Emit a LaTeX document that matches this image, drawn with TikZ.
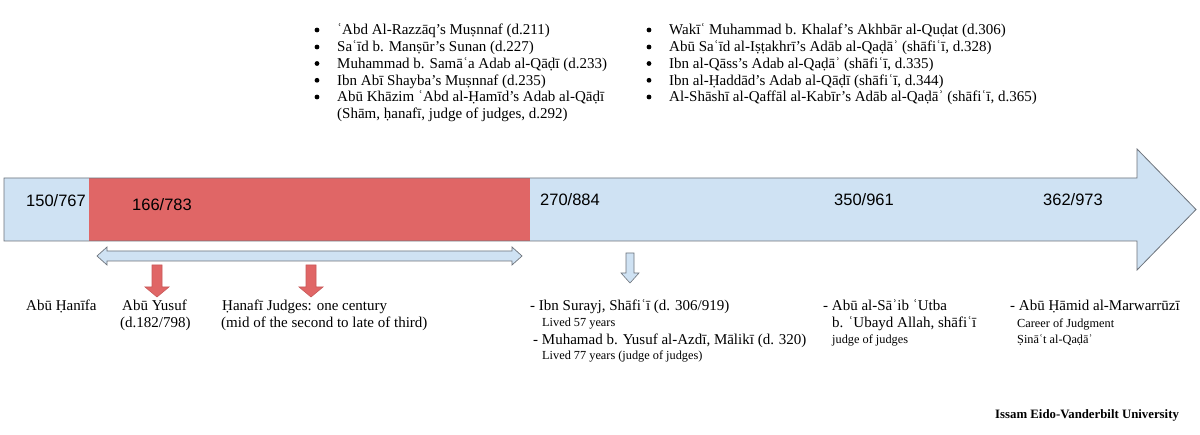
\documentclass[tikz,border=0pt]{standalone}
\usepackage{fontspec}
\setmainfont{Liberation Serif}
\newfontfamily\numfont{Liberation Sans}
\definecolor{barblue}{HTML}{CFE2F3}
\definecolor{barred}{HTML}{E06666}
\definecolor{edgegray}{HTML}{6D737B}
\definecolor{redge}{HTML}{C85A5A}
\begin{document}
\begin{tikzpicture}[x=1pt,y=-1pt,
  txt/.style={anchor=base west,inner sep=0pt,font=\fontsize{15}{17}\selectfont},
  small/.style={anchor=base west,inner sep=0pt,font=\fontsize{12.3}{14}\selectfont},
  num/.style={anchor=base west,inner sep=0pt,font=\numfont\fontsize{16.5}{18}\selectfont},
  bul/.style={circle,fill=black,inner sep=0pt,minimum size=4.8pt},
  shapeline/.style={draw=edgegray,line width=0.8pt,line join=miter}]
\useasboundingbox (0,0) rectangle (1200,435);
\fill[white] (0,0) rectangle (1200,435);
% big timeline arrow
\fill[barblue] (4,178) -- (1137,178) -- (1137,149) -- (1196,209.5) -- (1137,270) -- (1137,241) -- (4,241) -- cycle;
\fill[barred] (89,178) rectangle (530,241);
\draw[shapeline] (4,178) -- (1137,178) -- (1137,149) -- (1196,209.5) -- (1137,270) -- (1137,241) -- (4,241) -- cycle;
% dates
\node[num] (d150) at (26,207) {150/767};
\node[num] (d166) at (132,211) {166/783};
\node[num] (d270) at (540,206) {270/884};
\node[num] (d350) at (834,206) {350/961};
\node[num] (d362) at (1043,206) {362/973};
% double arrow
\draw[shapeline,fill=barblue,line width=0.7pt] (97,256) -- (107,247) -- (107,251) -- (512,251) -- (512,247) -- (522,256) -- (512,265) -- (512,261) -- (107,261) -- (107,265) -- cycle;
% red down arrows
\draw[draw=redge,fill=barred,line width=0.6pt] (152,265) -- (162,265) -- (162,287) -- (169,287) -- (157,297) -- (145,287) -- (152,287) -- cycle;
\draw[draw=redge,fill=barred,line width=0.6pt] (306,265) -- (316,265) -- (316,287) -- (323,287) -- (311,297) -- (299,287) -- (306,287) -- cycle;
% blue down arrow
\draw[shapeline,fill=barblue,line width=0.6pt] (626,253) -- (634,253) -- (634,273) -- (639,273) -- (630,283) -- (621,273) -- (626,273) -- cycle;
% top left list
\node[bul] (lb1) at (317,30) {};
\node[bul] (lb2) at (317,47) {};
\node[bul] (lb3) at (317,63.5) {};
\node[bul] (lb4) at (317,80.3) {};
\node[bul] (lb5) at (317,97) {};
\node[txt] (l1) at (337,35) {ʿAbd Al-Razzāq’s Muṣnnaf (d.211)};
\node[txt] (l2) at (337,52) {Saʿīd b. Manṣūr’s Sunan (d.227)};
\node[txt] (l3) at (337,68.5) {Muhammad b. Samāʿa Adab al-Qāḍī (d.233)};
\node[txt] (l4) at (337,85.3) {Ibn Abī Shayba’s Muṣnnaf (d.235)};
\node[txt] (l5) at (337,102) {Abū Khāzim ʿAbd al-Ḥamīd’s Adab al-Qāḍī};
\node[txt] (l6) at (337,118.7) {(Shām, ḥanafī, judge of judges, d.292)};
% top right list
\node[bul] (rb1) at (649,30) {};
\node[bul] (rb2) at (649,47) {};
\node[bul] (rb3) at (649,63.5) {};
\node[bul] (rb4) at (649,80.3) {};
\node[bul] (rb5) at (649,97) {};
\node[txt] (r1) at (669,35) {Wakīʿ Muhammad b. Khalaf’s Akhbār al-Quḍat (d.306)};
\node[txt] (r2) at (669,52) {Abū Saʿīd al-Iṣṭakhrī’s Adāb al-Qaḍāʾ (shāfiʿī, d.328)};
\node[txt] (r3) at (669,68.5) {Ibn al-Qāss’s Adab al-Qaḍāʾ (shāfiʿī, d.335)};
\node[txt] (r4) at (669,85.3) {Ibn al-Ḥaddād’s Adab al-Qāḍī (shāfiʿī, d.344)};
\node[txt] (r5) at (669,102) {Al-Shāshī al-Qaffāl al-Kabīr’s Adāb al-Qaḍāʾ (shāfiʿī, d.365)};
% bottom labels
\node[txt] (hanifa) at (26,311) {Abū Ḥanīfa};
\node[txt] (yusuf) at (122,311) {Abū Yusuf};
\node[txt] (yusufd) at (120,328) {(d.182/798)};
\node[txt] (hanafi) at (222,311) {Ḥanafī Judges: one century};
\node[txt] (hanafid) at (221,328) {(mid of the second to late of third)};
\node[txt] (surayj) at (530,311) {- Ibn Surayj, Shāfiʿī (d. 306/919)};
\node[small] (surayjl) at (542,327) {Lived 57 years};
\node[txt] (azdi) at (533,344.5) {- Muhamad b. Yusuf al-Azdī, Mālikī (d. 320)};
\node[small] (azdil) at (542,360) {Lived 77 years (judge of judges)};
\node[txt] (utba) at (823,311) {- Abū al-Sāʾib ʿUtba};
\node[txt] (utba2) at (832,327.5) {b. ʿUbayd Allah, shāfiʿī};
\node[small] (utbal) at (832,344) {judge of judges};
\node[txt] (hamid) at (1010,311) {- Abū Ḥāmid al-Marwarrūzī};
\node[small] (hamid2) at (1017,327.5) {Career of Judgment};
\node[small] (hamid3) at (1017,344) {Ṣināʿt al-Qaḍāʾ};
\node[anchor=base west,inner sep=0pt,font=\bfseries\fontsize{12.8}{14}\selectfont] (credit) at (995,419) {Issam Eido-Vanderbilt University};
\end{tikzpicture}
\end{document}
